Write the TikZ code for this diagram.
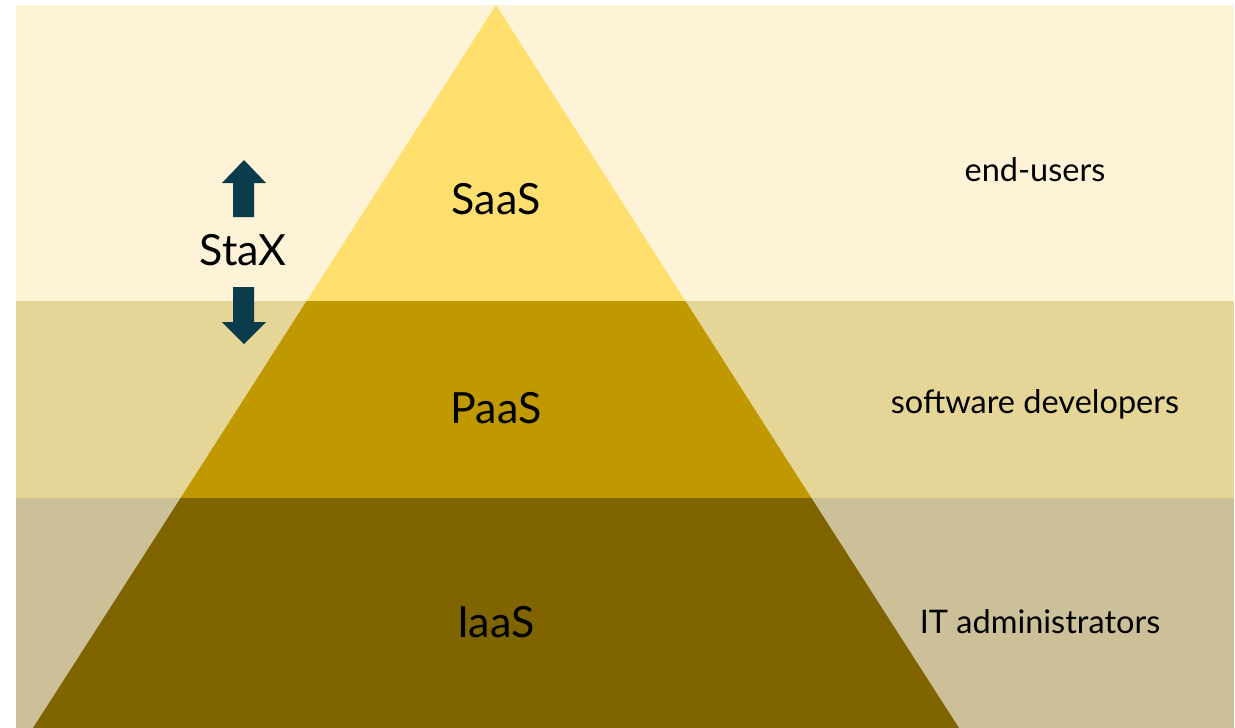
\documentclass[tikz,border=0pt]{standalone}
\usepackage{fontspec}
\setmainfont{Lato}
\definecolor{bandtop}{HTML}{FEF3D6}
\definecolor{bandmid}{HTML}{E5D597}
\definecolor{bandbot}{HTML}{CBC097}
\definecolor{pyrtop}{HTML}{FFE06E}
\definecolor{pyrmid}{HTML}{C09800}
\definecolor{pyrbot}{HTML}{806400}
\definecolor{staxblue}{HTML}{0B3C4C}
\tikzset{
  layer/.style={font=\fontsize{43}{47}\selectfont},
  who/.style={font=\fontsize{32.5}{36}\selectfont}
}
\begin{document}
\begin{tikzpicture}[x=1pt,y=-1pt]
\useasboundingbox (0,0) rectangle (1235,728);
% bands
\fill[bandtop] (16,5) rectangle (1234,301);
\fill[bandmid] (16,301) rectangle (1234,498);
\fill[bandbot] (16,498) rectangle (1234,728);
%
% pyramid: apex (496,5), base half width 463 at y=728
\fill[pyrtop] (496,5) -- (306.6,301) -- (685.4,301) -- cycle;
\fill[pyrmid] (306.6,301) -- (180.6,498) -- (811.4,498) -- (685.4,301) -- cycle;
\fill[pyrbot] (180.6,498) -- (33,728) -- (959,728) -- (811.4,498) -- cycle;
%
\node[layer] (saas) at (496,199) {SaaS};
\node[layer] (paas) at (496,408) {PaaS};
\node[layer] (iaas) at (496,622) {IaaS};
%
\node[who] (endusers) at (1035,170) {end-users};
\node[who] (devs) at (1035,404) {software developers};
\node[who] (admins) at (1040,622) {IT administrators};
%
\node[layer] (stax) at (243,250) {StaX};
\fill[staxblue] (244,160) -- (266,183) -- (254,183) -- (254,217) -- (233,217)
  -- (233,183) -- (222,183) -- cycle;
\fill[staxblue] (244,344) -- (266,322) -- (254,322) -- (254,287) -- (233,287)
  -- (233,322) -- (222,322) -- cycle;
\end{tikzpicture}
\end{document}
